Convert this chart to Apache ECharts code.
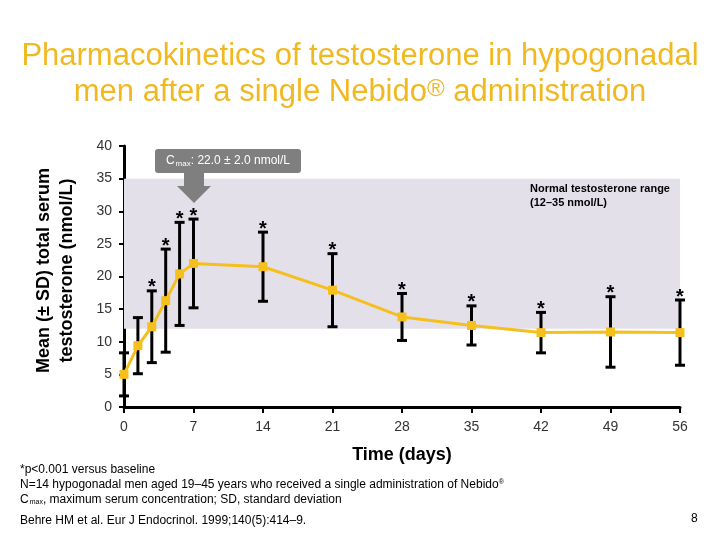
<!DOCTYPE html>
<html>
<head>
<meta charset="utf-8">
<script src="https://cdn.jsdelivr.net/npm/echarts@6/dist/echarts.min.js"></script>
<style>
html,body{margin:0;padding:0;background:#fff;}
#c{width:720px;height:540px;}
</style>
</head>
<body>
<div id="c"></div>
<script>
// ---- data ----
const days = [0, 1.4, 2.8, 4.2, 5.6, 7, 14, 21, 28, 35, 42, 49, 56];
const meanT = [5.0, 9.4, 12.3, 16.3, 20.4, 22.0, 21.5, 17.9, 13.8, 12.5, 11.4, 11.5, 11.4];
const sdT = [3.3, 4.3, 5.5, 7.9, 7.9, 6.8, 5.3, 5.6, 3.6, 3.0, 3.1, 5.4, 5.0];
const significant = [false, false, true, true, true, true, true, true, true, true, true, true, true];
const xTicks = [0, 7, 14, 21, 28, 35, 42, 49, 56];
const yTicks = [0, 5, 10, 15, 20, 25, 30, 35, 40];
const normalRange = [12, 35];

const lineColor = '#F5BF1E';
const font = 'Arial, "Liberation Sans", sans-serif';

const lineData = days.map((d, i) => [d, meanT[i]]);
const errData = days.map((d, i) => [d, meanT[i] - sdT[i], meanT[i] + sdT[i]]);
const starData = days.map((d, i) => [d, meanT[i] + sdT[i], significant[i] ? 1 : 0]);

const chart = echarts.init(document.getElementById('c'), null, {renderer: 'canvas'});

const option = {
  animation: false,
  backgroundColor: '#fff',
  grid: {left: 124, right: 40, top: 146, bottom: 133, containLabel: false},
  xAxis: {
    type: 'value', min: xTicks[0], max: xTicks[xTicks.length - 1], interval: 7,
    axisLine: {lineStyle: {color: '#000', width: 3}},
    axisTick: {show: true, length: 6, lineStyle: {color: '#000', width: 2}},
    axisLabel: {color: '#333', fontFamily: font, fontSize: 14, margin: 13},
    splitLine: {show: false},
    name: 'Time (days)', nameLocation: 'middle', nameGap: 39,
    nameTextStyle: {color: '#000', fontFamily: font, fontSize: 18, fontWeight: 'bold'}
  },
  yAxis: {
    type: 'value', min: yTicks[0], max: yTicks[yTicks.length - 1], interval: 5,
    axisLine: {show: true, lineStyle: {color: '#000', width: 3}},
    axisTick: {show: true, length: 5, lineStyle: {color: '#000', width: 2}},
    axisLabel: {color: '#333', fontFamily: font, fontSize: 14, margin: 12},
    splitLine: {show: false},
    name: 'Mean (± SD) total serum\ntestosterone (nmol/L)', nameLocation: 'middle', nameGap: 45,
    nameTextStyle: {color: '#000', fontFamily: font, fontSize: 18, fontWeight: 'bold', lineHeight: 23, padding: [0, 0, 0, 12]}
  },
  series: [
    {
      type: 'line', data: lineData, z: 5,
      symbol: 'rect', symbolSize: 9,
      lineStyle: {color: lineColor, width: 3},
      itemStyle: {color: lineColor},
      markArea: {
        silent: true,
        itemStyle: {color: '#E4E0EA'},
        data: [[{xAxis: xTicks[0], yAxis: normalRange[0]}, {xAxis: xTicks[xTicks.length - 1], yAxis: normalRange[1]}]]
      }
    },
    {
      type: 'custom', data: errData, z: 4,
      renderItem: function (params, api) {
        const x = api.value(0);
        const lo = api.coord([x, api.value(1)]);
        const hi = api.coord([x, api.value(2)]);
        const w = 5;
        const st = {stroke: '#000', lineWidth: 3};
        return {
          type: 'group', children: [
            {type: 'line', shape: {x1: lo[0], y1: lo[1], x2: hi[0], y2: hi[1]}, style: st},
            {type: 'line', shape: {x1: lo[0] - w, y1: lo[1], x2: lo[0] + w, y2: lo[1]}, style: st},
            {type: 'line', shape: {x1: hi[0] - w, y1: hi[1], x2: hi[0] + w, y2: hi[1]}, style: st}
          ]
        };
      }
    },
    {
      type: 'custom', data: starData, z: 6,
      renderItem: function (params, api) {
        if (!api.value(2)) return null;
        const p = api.coord([api.value(0), api.value(1)]);
        return {
          type: 'text',
          style: {x: p[0], y: p[1] + 7, text: '*', fill: '#000', font: 'bold 20px ' + font, align: 'center', verticalAlign: 'bottom'}
        };
      }
    }
  ],
  graphic: [
    {type: 'text', left: 'center', top: 41, style: {text: 'Pharmacokinetics of testosterone in hypogonadal', fill: '#F0B821', font: '31px ' + font}},
    {type: 'text', left: 'center', top: 77, style: {
      text: '{a|men after a single Nebido}{s|®}{a| administration}',
      rich: {a: {fill: '#F0B821', font: '31px ' + font}, s: {fill: '#F0B821', font: '24px ' + font, verticalAlign: 'top', padding: [0, 0, 6, 0]}}
    }},
    // Cmax annotation box + arrow
    {type: 'rect', shape: {x: 155, y: 149, width: 146, height: 24, r: 3}, style: {fill: '#7F7F7F'}, z: 10},
    {type: 'polygon', shape: {points: [[184, 173], [204, 173], [204, 186], [211, 186], [194, 203], [177, 186], [184, 186]]}, style: {fill: '#7F7F7F'}, z: 10},
    {type: 'text', x: 228, y: 161, z: 11, style: {
      text: '{c|C}{m|max}{c|: 22.0 ± 2.0 nmol/L}', align: 'center', verticalAlign: 'middle',
      rich: {c: {fill: '#fff', font: '12px ' + font}, m: {fill: '#fff', font: '8px ' + font, padding: [6, 0, 0, 1]}}
    }},
    {type: 'text', x: 530, y: 182, z: 11, style: {
      text: 'Normal testosterone range\n(12–35 nmol/L)', fill: '#000', font: 'bold 11px ' + font, lineHeight: 14
    }},
    // footnotes
    {type: 'text', x: 20, y: 464, style: {text: '*p<0.001 versus baseline', fill: '#000', font: '12px ' + font}},
    {type: 'text', x: 20, y: 479, style: {
      text: '{a|N=14 hypogonadal men aged 19–45 years who received a single administration of Nebido}{s|®}',
      rich: {a: {fill: '#000', font: '12px ' + font}, s: {fill: '#000', font: '7px ' + font, verticalAlign: 'top', padding: [0, 0, 5, 0]}}
    }},
    {type: 'text', x: 20, y: 494, style: {
      text: '{a|C}{m|max}{a|, maximum serum concentration; SD, standard deviation}',
      rich: {a: {fill: '#000', font: '12px ' + font}, m: {fill: '#000', font: '7px ' + font, padding: [5, 0, 0, 1]}}
    }},
    {type: 'text', x: 20, y: 515, style: {text: 'Behre HM et al. Eur J Endocrinol. 1999;140(5):414–9.', fill: '#000', font: '12px ' + font}},
    {type: 'text', x: 691, y: 513, style: {text: '8', fill: '#000', font: '12px ' + font}}
  ]
};
chart.setOption(option);
</script>
</body>
</html>
